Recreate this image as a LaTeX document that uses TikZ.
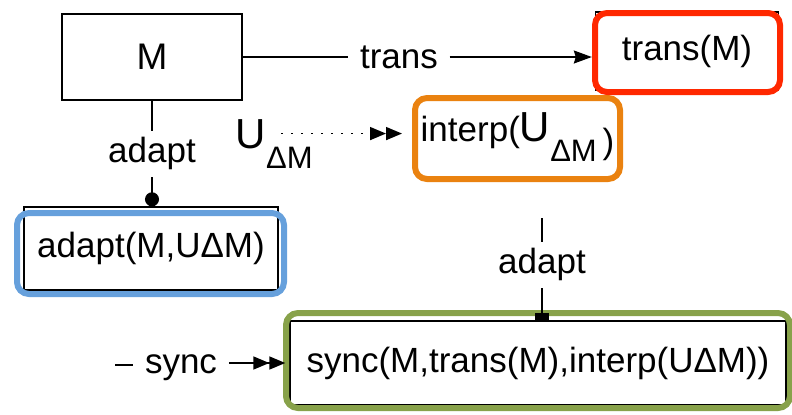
\documentclass[tikz,border=0pt]{standalone}
\usepackage{fontspec}
\setmainfont{Liberation Sans}
\usetikzlibrary{arrows.meta}
\definecolor{hlred}{RGB}{255,40,0}
\definecolor{hlorange}{RGB}{234,130,16}
\definecolor{hlblue}{RGB}{102,160,220}
\definecolor{hlgreen}{RGB}{136,162,74}
\newcommand{\UdM}{{\fontsize{21}{24}\selectfont U}\raisebox{-10pt}{\fontsize{15.5}{18}\selectfont ΔM}}
\tikzset{
	box/.style={draw,line width=.7pt,inner sep=0pt},
	lab/.style={inner xsep=5.5pt,inner ysep=5pt,text height=1em,text depth=.21em},
	frame/.style={draw=#1,line width=3pt,rounded corners=6pt},
	dbl/.style={-{Stealth[length=8pt,width=6.5pt,inset=0pt]Stealth[length=8pt,width=6.5pt,inset=0pt]}}
}
\begin{document}
\begin{tikzpicture}[x=.5pt,y=-.5pt,>={Stealth[length=9pt,width=6.5pt,inset=1pt]},font=\fontsize{17.5}{21}\selectfont,line width=.8pt]
	\useasboundingbox (0,0) rectangle (792,414);
	\node[box,minimum width=90pt,minimum height=43pt] (M) at (152,57) {\fontsize{18.5}{22}\selectfont M};
	\node[box,minimum width=91.5pt,minimum height=39pt] (tM) at (687,51) {trans(M)};
	\node[box,minimum width=127pt,minimum height=41.5pt] (ad) at (151,248.5) {adapt(M,UΔM)};
	\node[box,minimum width=248pt,minimum height=42pt] (sy) at (538,363) {sync(M,trans(M),interp(UΔM))};
	\node[frame=hlorange,inner sep=0pt,minimum width=102.5pt,minimum height=40.5pt,text height=1.25em] (ip) at (517.5,138.5) {interp(\UdM\,\raisebox{-6pt}{)}};
	\node[anchor=base west,inner sep=0pt] (U) at (235,148) {\UdM};
	\node[lab,anchor=base] (tr) at (399,68) {trans};
	\node[lab,anchor=base] (a1) at (152,162) {adapt};
	\node[lab,anchor=base] (a2) at (542,273) {adapt};
	\node[lab,anchor=base] (sl) at (181,373) {sync};
	\coordinate (s0) at (115,365);
	\coordinate (u0) at ([shift={(-16pt,5pt)}]U.east);
	\draw[frame=hlred] (595,13) rectangle (780,92);
	\draw[frame=hlblue] (17,213) rectangle (284,294);
	\draw[frame=hlgreen] (286,313) rectangle (790,408);
	\draw (M) -- (M -| tr.west);
	\draw[->,shorten >=1.5pt] (tr.east |- M) -- (tM.west |- M);
	\draw (M) -- (a1);
	\draw[-{Circle[length=7pt]}] (a1) -- (a1 |- ad.north);
	\draw[dbl,dash pattern=on 1pt off 4pt,shorten >=5pt] (u0) -- (u0 -| ip.west);
	\draw[shorten <=18pt] (ip.south -| a2) -- (a2);
	\draw[-{Rectangle[length=3.5pt,width=7pt]}] (a2) -- (a2 |- sy.north);
	\draw (s0) -- (s0 -| sl.west);
	\draw[dbl,shorten >=2pt] (sl.east |- sy) -- (sy);
\end{tikzpicture}
\end{document}
